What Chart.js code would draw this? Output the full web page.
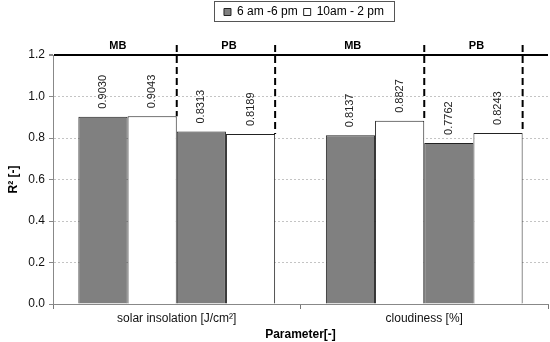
<!DOCTYPE html>
<html>
<head>
<meta charset="utf-8">
<script src="https://cdn.jsdelivr.net/npm/chart.js@4"></script>
<style>
  html, body { margin: 0; padding: 0; background: #fff; }
  #wrap { width: 550px; height: 342px; }
</style>
</head>
<body>
<div id="wrap"><canvas id="c"></canvas></div>
<script>
// data
const categories = ['solar insolation [J/cm²]', 'cloudiness [%]'];
const periods = ['6 am -6 pm', '10am - 2 pm'];
const groups = ['MB', 'PB'];
const mbFullDay = [0.9030, 0.8137];
const mbMidDay = [0.9043, 0.8827];
const pbFullDay = [0.8313, 0.7762];
const pbMidDay = [0.8189, 0.8243];
const yTicks = [0.0, 0.2, 0.4, 0.6, 0.8, 1.0, 1.2];

const GREY = '#808080';
const FONT = 'Arial, "Liberation Sans", sans-serif';

// values on top of bars, rotated
const valueLabels = {
  id: 'valueLabels',
  afterDatasetsDraw(chart) {
    const ctx = chart.ctx;
    ctx.save();
    ctx.font = '11px ' + FONT;
    ctx.fillStyle = '#222';
    ctx.textAlign = 'left';
    ctx.textBaseline = 'middle';
    chart.data.datasets.forEach((ds, di) => {
      chart.getDatasetMeta(di).data.forEach((bar, i) => {
        ctx.save();
        ctx.translate(bar.x, bar.y - 8);
        ctx.rotate(-Math.PI / 2);
        ctx.fillText(ds.data[i].toFixed(4), 0, 0);
        ctx.restore();
      });
    });
    ctx.restore();
  }
};

// dashed separators + MB / PB captions
const groupMarks = {
  id: 'groupMarks',
  afterDatasetsDraw(chart) {
    const ctx = chart.ctx;
    const area = chart.chartArea;
    ctx.save();
    ctx.strokeStyle = '#000';
    ctx.lineWidth = 2;
    ctx.setLineDash([7, 4]);
    const seps = [];
    [1, 3].forEach(di => {
      chart.getDatasetMeta(di).data.forEach((bar, i) => {
        const x = bar.x + bar.width / 2;
        seps.push({ x, cat: i, grp: di === 1 ? 0 : 1 });
        ctx.beginPath();
        ctx.moveTo(x, area.top - 10);
        ctx.lineTo(x, bar.y);
        ctx.stroke();
      });
    });
    ctx.setLineDash([]);
    ctx.font = 'bold 11px ' + FONT;
    ctx.fillStyle = '#000';
    ctx.textAlign = 'center';
    ctx.textBaseline = 'middle';
    seps.sort((a, b) => a.x - b.x);
    let prev = area.left;
    seps.forEach(s => {
      ctx.fillText(groups[s.grp], (prev + s.x) / 2 + 3, area.top - 9);
      prev = s.x;
    });
    ctx.restore();
  }
};

// room above the plot + box around the legend
const legendFrame = {
  id: 'legendFrame',
  beforeInit(chart) {
    const lg = chart.legend;
    const fit = lg.fit;
    lg.fit = function () {
      fit.call(this);
      this.height = 55;
    };
  },
  afterLayout(chart) {
    chart.legend.left += 30;
    chart.legend.right += 30;
  },
  afterDraw(chart) {
    const lg = chart.legend;
    const pad = lg.options.labels.padding;
    const w = lg.lineWidths[0];
    const start = (lg.left + pad + lg.right - w) / 2;
    const ctx = chart.ctx;
    ctx.save();
    ctx.strokeStyle = '#555';
    ctx.lineWidth = 1;
    ctx.strokeRect(Math.round(start - 10) + 0.5, 1.5, Math.round(w + 14), 20);
    ctx.restore();
  }
};

const bar = (label, data, fill) => ({
  label, data,
  backgroundColor: fill,
  borderColor: '#222',
  borderWidth: 1,
  borderSkipped: 'bottom'
});

new Chart(document.getElementById('c'), {
  type: 'bar',
  plugins: [legendFrame, valueLabels, groupMarks],
  data: {
    labels: categories,
    datasets: [
      bar(periods[0], mbFullDay, GREY),
      bar(periods[1], mbMidDay, '#fff'),
      bar(periods[0] + ' PB', pbFullDay, GREY),
      bar(periods[1] + ' PB', pbMidDay, '#fff')
    ]
  },
  options: {
    responsive: true,
    maintainAspectRatio: false,
    animation: false,
    layout: { padding: { left: 0, right: 2, top: 0, bottom: 0 } },
    datasets: { bar: { categoryPercentage: 0.795, barPercentage: 1.0 } },
    plugins: {
      tooltip: { enabled: false },
      legend: {
        position: 'top',
        labels: {
          filter: item => item.datasetIndex < 2,
          boxWidth: 7,
          boxHeight: 7,
          padding: 6,
          color: '#000',
          font: { family: FONT, size: 12 }
        }
      }
    },
    scales: {
      x: {
        afterFit: s => { s.height = 38; },
        grid: { drawOnChartArea: false, tickLength: 5, color: '#777', offset: true },
        border: { color: '#888', width: 1 },
        ticks: { color: '#111', font: { family: FONT, size: 12 }, padding: 2, maxRotation: 0 },
        title: { display: true, text: 'Parameter[-]', color: '#000',
                 font: { family: FONT, size: 12, weight: 'bold' }, padding: { top: 0, bottom: 0 } }
      },
      y: {
        min: 0,
        max: 1.2,
        afterFit: s => { s.width = 53; },
        afterBuildTicks: s => { s.ticks = yTicks.map(v => ({ value: v })); },
        ticks: {
          color: '#111',
          font: { family: FONT, size: 12 },
          padding: 4,
          callback: v => Number(v).toFixed(1)
        },
        grid: {
          color: c => (c.tick && c.tick.value === 1.2) ? '#000' : '#c4c4c4',
          lineWidth: c => (c.tick && c.tick.value === 1.2) ? 2 : 1,
          tickLength: 4,
          tickColor: '#888'
        },
        border: {
          color: '#888',
          dash: c => (c.tick && c.tick.value === 1.2) ? [] : [2, 2]
        },
        title: { display: true, text: 'R² [-]', color: '#000',
                 font: { family: FONT, size: 12, weight: 'bold' }, padding: { top: 6, bottom: 4 } }
      }
    }
  }
});
</script>
</body>
</html>
